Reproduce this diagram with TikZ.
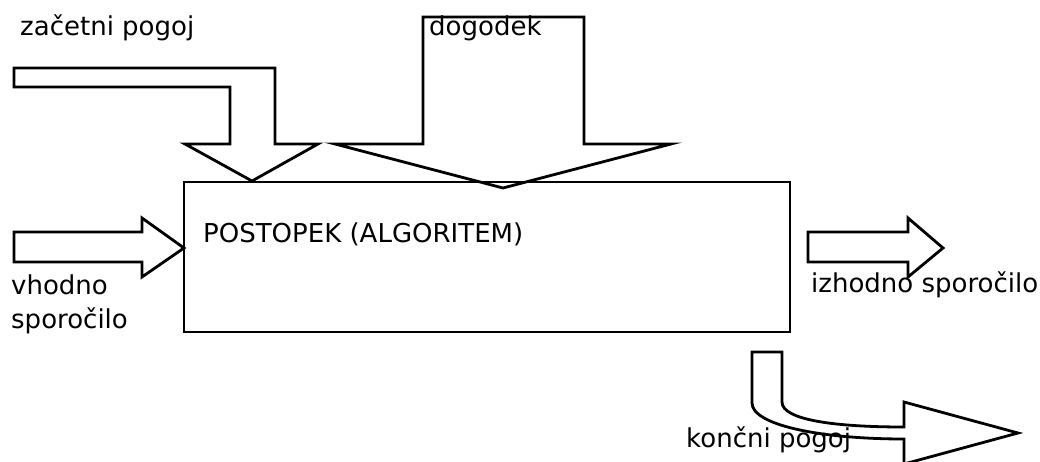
\documentclass[tikz,border=0pt]{standalone}
\usepackage{fontspec}
\setmainfont{DejaVu Sans}
\tikzset{
  puscica/.style={draw=black,line width=2.8pt,line join=miter},
  okvir/.style={draw=black,line width=2.8pt},
  napis/.style={anchor=base west,inner sep=0pt,font=\fontsize{26}{31}\selectfont}
}

\begin{document}
\begin{tikzpicture}[x=1pt,y=-1pt]
\useasboundingbox (0,0) rectangle (1040,462);
% postopek
\draw[okvir] (184,182) rectangle (790,332);
\node[napis] (postopek) at (203,243) {POSTOPEK (ALGORITEM)};
% vhodi zgoraj
\draw[puscica] (14,68)--(275,68)--(275,144)--(318,144)--(252,181)--(185,144)--(230,144)--(230,87)--(14,87)--cycle;
\draw[puscica] (423,17)--(584,17)--(584,144)--(671,144)--(503,188)--(335,144)--(423,144)--cycle;
\node[napis] (zacetni) at (20,36) {začetni pogoj};
\node[napis] (dogodek) at (429,36) {dogodek};
% vhod in izhod
\draw[puscica] (14,232)--(142,232)--(142,218)--(184,248)--(142,277)--(142,262)--(14,262)--cycle;
\draw[puscica] (808,232)--(908,232)--(908,218)--(943,248)--(908,277)--(908,262)--(808,262)--cycle;
\node[napis] (vhodno) at (11,294) {vhodno};
\node[napis] (sporocilo) at (11,328) {sporočilo};
\node[napis] (izhodno) at (811,292) {izhodno sporočilo};
% koncni pogoj
\node[napis] (koncni) at (686,447) {končni pogoj};
\draw[puscica] (752,352)--(782,352)--(782,402) .. controls (782,420) and (835,427) .. (904,427)
  --(904,402)--(1018,433)--(904,464)--(904,439) .. controls (820,439) and (752,425) .. (752,403)--cycle;
\end{tikzpicture}
\end{document}
